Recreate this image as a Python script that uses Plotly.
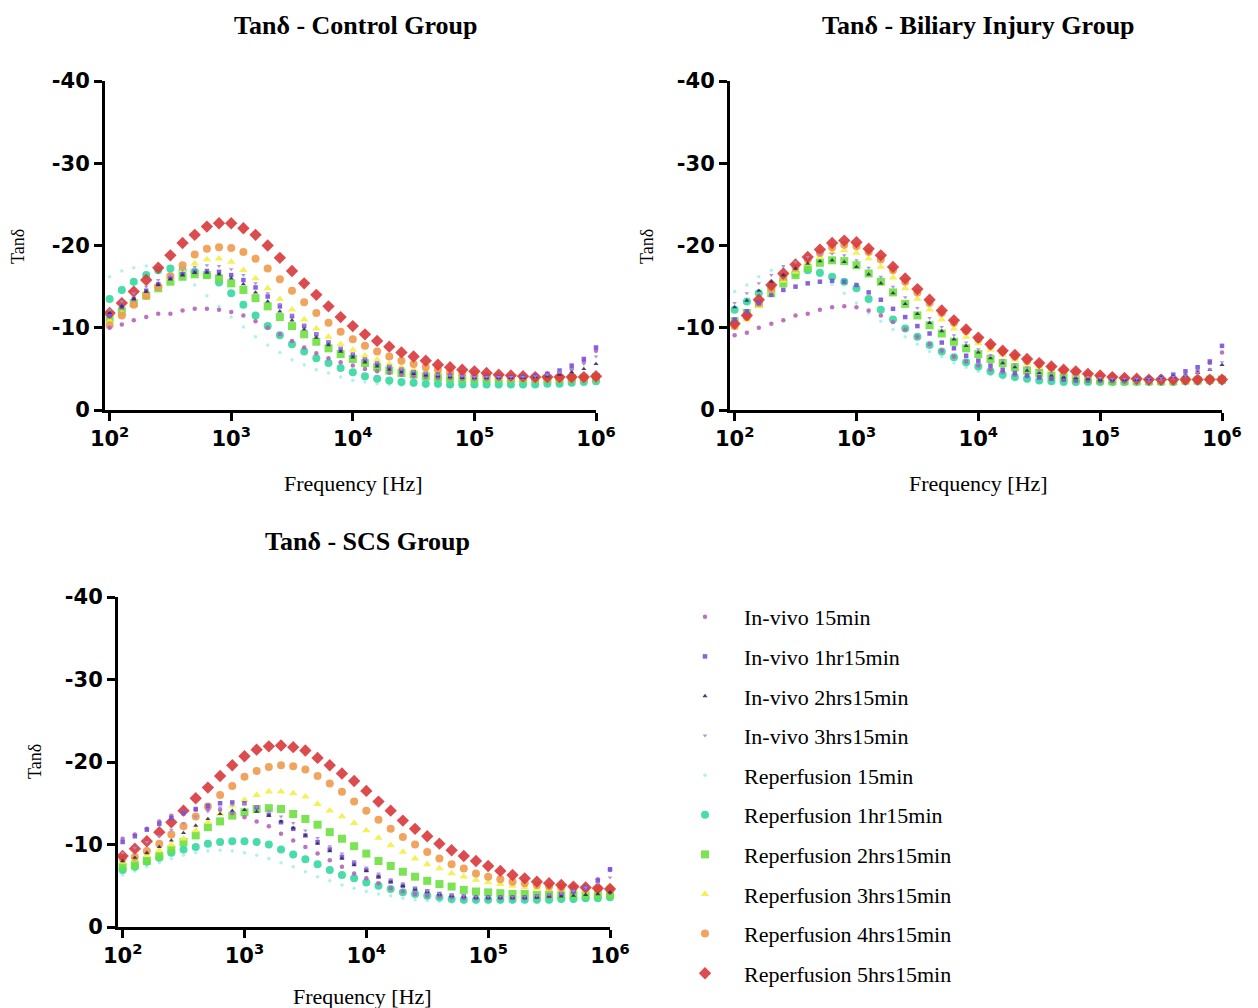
import plotly.graph_objects as go

# ---------------- data ----------------
freq = [100, 126, 158, 200, 251, 316, 398, 501, 631, 794, 1000, 1259, 1585, 1995, 2512,
        3162, 3981, 5012, 6310, 7943, 10000, 12589, 15849, 19953, 25119, 31623, 39811,
        50119, 63096, 79433, 100000, 125893, 158489, 199526, 251189, 316228, 398107,
        501187, 630957, 794328, 1000000]

series_names = ["In-vivo 15min", "In-vivo 1hr15min", "In-vivo 2hrs15min", "In-vivo 3hrs15min",
                "Reperfusion 15min", "Reperfusion 1hr15min", "Reperfusion 2hrs15min",
                "Reperfusion 3hrs15min", "Reperfusion 4hrs15min", "Reperfusion 5hrs15min"]

panel_titles = ["Tanδ - Control Group", "Tanδ - Biliary Injury Group", "Tanδ - SCS Group"]
x_tick_vals = [100, 1000, 10000, 100000, 1000000]
x_tick_text = ["10<sup>2</sup>", "10<sup>3</sup>", "10<sup>4</sup>", "10<sup>5</sup>", "10<sup>6</sup>"]
y_tick_vals = [0, -10, -20, -30, -40]
y_tick_text = ["0", "-10", "-20", "-30", "-40"]

# Control group (tan delta, negative)
ctrl_iv15 = [-10.0, -10.4, -10.9, -11.3, -11.7, -11.7, -12.1, -12.3, -12.3, -12.2, -11.9, -11.5, -10.8, -10.0, -9.2, -8.4, -7.6, -6.9, -6.3, -5.8, -5.4, -5.0, -4.7, -4.5, -4.3, -4.1, -4.0, -3.9, -3.9, -3.8, -3.8, -3.8, -3.8, -3.9, -3.9, -4.0, -4.2, -4.5, -5.0, -5.9, -7.2]
ctrl_iv1 = [-11.5, -12.5, -13.5, -14.5, -15.3, -16.0, -16.5, -16.8, -16.9, -16.8, -16.4, -15.8, -14.9, -13.8, -12.6, -11.4, -10.2, -9.2, -8.2, -7.4, -6.7, -6.1, -5.6, -5.2, -4.9, -4.6, -4.4, -4.3, -4.2, -4.1, -4.0, -4.0, -4.0, -4.0, -4.1, -4.2, -4.4, -4.8, -5.4, -6.2, -7.6]
ctrl_iv2 = [-11.8, -12.6, -13.5, -14.4, -15.2, -15.9, -16.4, -16.7, -16.7, -16.5, -16.0, -15.3, -14.3, -13.2, -12.0, -10.9, -9.8, -8.8, -7.9, -7.1, -6.4, -5.8, -5.3, -4.9, -4.6, -4.4, -4.2, -4.1, -4.0, -3.9, -3.9, -3.9, -3.9, -3.9, -3.9, -4.0, -4.1, -4.3, -4.6, -5.0, -5.6]
ctrl_iv3 = [-12.2, -13.2, -14.2, -15.0, -15.8, -16.4, -17.0, -17.4, -17.6, -17.5, -17.1, -16.4, -15.4, -14.2, -12.9, -11.6, -10.4, -9.3, -8.4, -7.6, -6.9, -6.3, -5.8, -5.4, -5.0, -4.7, -4.5, -4.3, -4.2, -4.1, -4.0, -4.0, -4.0, -4.0, -4.0, -4.1, -4.3, -4.6, -5.0, -5.6, -6.5]
ctrl_r15 = [-16.2, -16.9, -17.3, -17.5, -17.3, -16.8, -16.0, -15.2, -13.9, -12.6, -11.3, -10.1, -8.9, -7.9, -7.0, -6.1, -5.5, -4.9, -4.5, -4.0, -3.6, -3.4, -3.2, -3.1, -3.0, -3.0, -2.9, -2.9, -2.9, -2.9, -2.9, -2.9, -2.9, -2.9, -2.9, -3.0, -3.0, -3.1, -3.2, -3.3, -3.4]
ctrl_r1 = [-13.5, -14.6, -15.6, -16.4, -17.0, -17.2, -17.0, -16.8, -16.4, -15.5, -14.2, -12.8, -11.5, -10.2, -9.1, -8.0, -7.1, -6.3, -5.7, -5.1, -4.6, -4.1, -3.8, -3.6, -3.4, -3.3, -3.2, -3.2, -3.1, -3.1, -3.1, -3.1, -3.1, -3.1, -3.1, -3.1, -3.2, -3.2, -3.3, -3.4, -3.5]
ctrl_r2 = [-11.1, -12.0, -13.0, -13.9, -14.8, -15.6, -16.2, -16.5, -16.4, -16.0, -15.4, -14.6, -13.6, -12.6, -11.3, -10.2, -9.2, -8.3, -7.5, -6.8, -6.2, -5.7, -5.2, -4.8, -4.5, -4.3, -4.1, -4.0, -3.9, -3.8, -3.8, -3.8, -3.8, -3.8, -3.8, -3.8, -3.8, -3.8, -3.9, -3.9, -4.0]
ctrl_r3 = [-10.8, -11.8, -12.9, -14.0, -15.0, -16.0, -17.0, -17.8, -18.3, -18.4, -18.0, -17.0, -16.0, -14.8, -13.5, -12.2, -11.0, -9.9, -8.9, -8.0, -7.3, -6.6, -6.1, -5.6, -5.2, -4.9, -4.7, -4.5, -4.3, -4.2, -4.1, -4.0, -3.9, -3.9, -3.9, -3.9, -3.9, -3.9, -3.9, -3.9, -4.0]
ctrl_r4 = [-10.3, -11.5, -12.8, -13.9, -15.0, -16.3, -17.6, -18.9, -19.6, -19.8, -19.7, -19.2, -18.4, -17.2, -15.9, -14.5, -13.1, -11.8, -10.6, -9.5, -8.6, -7.8, -7.1, -6.5, -6.0, -5.6, -5.2, -4.9, -4.6, -4.4, -4.3, -4.1, -4.0, -3.9, -3.9, -3.8, -3.8, -3.8, -3.8, -3.8, -3.9]
ctrl_r5 = [-11.8, -13.0, -14.4, -15.8, -17.3, -18.8, -20.3, -21.3, -22.3, -22.7, -22.7, -22.1, -21.3, -20.0, -18.5, -16.9, -15.4, -14.0, -12.6, -11.3, -10.2, -9.2, -8.4, -7.7, -7.0, -6.5, -6.0, -5.5, -5.2, -4.9, -4.7, -4.5, -4.3, -4.2, -4.1, -4.0, -4.0, -4.0, -4.0, -4.0, -4.1]

# Biliary injury group
bil_iv15 = [-9.1, -9.4, -10.0, -10.5, -10.9, -11.5, -11.7, -12.2, -12.5, -12.6, -12.5, -12.1, -11.5, -10.7, -9.8, -8.9, -8.0, -7.2, -6.5, -5.9, -5.4, -4.9, -4.6, -4.3, -4.1, -3.9, -3.8, -3.7, -3.6, -3.6, -3.5, -3.5, -3.5, -3.6, -3.6, -3.7, -3.9, -4.2, -4.7, -5.7, -7.0]
bil_iv1 = [-11.0, -12.0, -13.0, -14.0, -14.6, -15.0, -15.4, -15.6, -15.7, -15.6, -15.2, -14.3, -13.4, -12.3, -11.3, -10.2, -9.3, -8.2, -7.5, -6.6, -6.0, -5.4, -4.9, -4.5, -4.2, -4.0, -3.8, -3.7, -3.6, -3.6, -3.6, -3.6, -3.6, -3.7, -3.8, -4.0, -4.3, -4.7, -5.2, -5.9, -7.8]
bil_iv2 = [-12.5, -13.3, -14.5, -15.6, -16.4, -17.2, -17.8, -18.1, -18.2, -18.0, -17.4, -16.5, -15.4, -14.2, -12.9, -11.7, -10.6, -9.6, -8.6, -7.8, -7.0, -6.3, -5.7, -5.2, -4.8, -4.5, -4.2, -4.0, -3.9, -3.8, -3.7, -3.7, -3.7, -3.7, -3.8, -3.9, -4.0, -4.2, -4.5, -4.9, -5.5]
bil_iv3 = [-13.0, -14.2, -15.4, -16.4, -17.5, -18.0, -18.6, -18.9, -19.0, -18.8, -18.2, -17.3, -16.2, -15.0, -13.7, -12.4, -11.2, -10.1, -9.1, -8.2, -7.4, -6.7, -6.1, -5.6, -5.2, -4.8, -4.5, -4.3, -4.1, -4.0, -3.9, -3.8, -3.8, -3.8, -3.8, -3.9, -4.0, -4.2, -4.5, -5.0, -5.8]
bil_r15 = [-14.4, -15.2, -16.2, -17.0, -17.3, -17.3, -17.0, -16.3, -15.3, -14.2, -13.0, -11.8, -10.8, -9.8, -8.9, -8.0, -7.1, -6.5, -5.7, -5.2, -4.7, -4.3, -3.9, -3.7, -3.5, -3.4, -3.3, -3.3, -3.2, -3.2, -3.2, -3.2, -3.2, -3.2, -3.2, -3.3, -3.3, -3.4, -3.4, -3.5, -3.6]
bil_r1 = [-12.2, -13.2, -14.2, -15.0, -15.8, -16.6, -17.0, -16.7, -16.2, -15.6, -14.8, -13.5, -12.2, -11.0, -9.9, -8.9, -7.9, -7.1, -6.4, -5.8, -5.3, -4.7, -4.3, -4.0, -3.8, -3.6, -3.5, -3.4, -3.4, -3.4, -3.4, -3.4, -3.4, -3.4, -3.4, -3.4, -3.4, -3.5, -3.5, -3.6, -3.6]
bil_r2 = [-10.8, -11.8, -12.9, -14.2, -15.4, -16.4, -17.3, -17.9, -18.2, -18.1, -17.6, -16.6, -15.6, -14.3, -12.9, -11.5, -10.3, -9.3, -8.3, -7.5, -6.8, -6.2, -5.7, -5.2, -4.8, -4.5, -4.2, -4.0, -3.8, -3.7, -3.6, -3.5, -3.5, -3.5, -3.5, -3.5, -3.5, -3.6, -3.6, -3.7, -3.7]
bil_r3 = [-10.0, -11.0, -12.6, -14.3, -15.7, -16.8, -17.8, -18.6, -19.2, -19.4, -19.1, -18.4, -17.4, -16.1, -14.8, -13.5, -12.2, -11.0, -9.9, -8.9, -8.1, -7.3, -6.7, -6.1, -5.6, -5.2, -4.9, -4.6, -4.3, -4.1, -3.9, -3.8, -3.7, -3.6, -3.6, -3.6, -3.6, -3.6, -3.6, -3.6, -3.7]
bil_r4 = [-10.2, -11.3, -13.0, -14.8, -16.2, -17.3, -18.3, -19.1, -19.8, -20.1, -19.9, -19.2, -18.3, -17.0, -15.6, -14.3, -13.0, -11.8, -10.6, -9.6, -8.6, -7.8, -7.1, -6.5, -6.0, -5.6, -5.2, -4.8, -4.6, -4.3, -4.1, -4.0, -3.8, -3.7, -3.6, -3.6, -3.6, -3.6, -3.6, -3.6, -3.7]
bil_r5 = [-10.5, -11.5, -13.4, -15.2, -16.6, -17.7, -18.6, -19.5, -20.3, -20.6, -20.4, -19.6, -18.8, -17.4, -16.0, -14.7, -13.4, -12.1, -10.9, -9.8, -8.8, -8.0, -7.2, -6.7, -6.2, -5.7, -5.3, -4.9, -4.7, -4.4, -4.2, -4.0, -3.9, -3.8, -3.7, -3.7, -3.7, -3.7, -3.7, -3.7, -3.7]

# SCS group
scs_iv15 = [-10.7, -11.2, -11.9, -12.8, -13.5, -13.9, -14.2, -14.3, -14.2, -13.8, -13.3, -12.8, -12.2, -11.3, -10.5, -9.7, -8.9, -8.1, -7.3, -6.5, -5.9, -5.3, -4.7, -4.3, -4.0, -3.8, -3.7, -3.6, -3.5, -3.5, -3.5, -3.5, -3.5, -3.5, -3.6, -3.7, -3.9, -4.2, -4.7, -5.8, -6.9]
scs_iv1 = [-10.3, -11.0, -11.8, -12.5, -13.2, -13.8, -14.3, -14.7, -15.0, -15.1, -15.0, -14.5, -13.6, -12.7, -11.9, -11.1, -10.3, -9.4, -8.5, -7.7, -6.9, -6.1, -5.5, -5.0, -4.6, -4.3, -4.0, -3.8, -3.7, -3.6, -3.6, -3.6, -3.6, -3.6, -3.7, -3.8, -4.0, -4.3, -4.8, -5.6, -7.0]
scs_iv2 = [-8.0, -8.4, -9.0, -9.7, -10.5, -11.4, -12.3, -13.1, -13.7, -14.1, -14.2, -14.0, -13.5, -12.8, -12.0, -11.1, -10.1, -9.2, -8.3, -7.5, -6.8, -6.1, -5.5, -5.0, -4.6, -4.3, -4.0, -3.8, -3.7, -3.6, -3.6, -3.6, -3.6, -3.6, -3.6, -3.7, -3.7, -3.8, -3.9, -4.0, -4.2]
scs_iv3 = [-9.0, -9.6, -10.3, -11.0, -11.8, -12.6, -13.4, -14.0, -14.5, -14.8, -14.9, -14.6, -14.1, -13.4, -12.6, -11.7, -10.8, -9.8, -8.9, -8.0, -7.2, -6.5, -5.8, -5.3, -4.8, -4.4, -4.1, -3.9, -3.8, -3.7, -3.7, -3.7, -3.7, -3.7, -3.8, -3.9, -4.1, -4.4, -4.8, -5.3, -6.0]
scs_r15 = [-6.3, -6.8, -7.3, -7.8, -8.3, -8.7, -9.0, -9.2, -9.3, -9.2, -9.0, -8.7, -8.3, -7.8, -7.3, -6.7, -6.1, -5.6, -5.1, -4.7, -4.3, -4.0, -3.8, -3.5, -3.3, -3.2, -3.1, -3.0, -3.0, -3.0, -3.0, -3.0, -3.0, -3.0, -3.0, -3.0, -3.1, -3.1, -3.2, -3.3, -3.4]
scs_r1 = [-6.9, -7.3, -7.9, -8.4, -9.0, -9.4, -9.7, -10.1, -10.3, -10.4, -10.4, -10.3, -10.0, -9.4, -8.8, -8.2, -7.6, -6.9, -6.3, -5.9, -5.4, -5.0, -4.6, -4.2, -4.0, -3.8, -3.6, -3.4, -3.3, -3.3, -3.3, -3.3, -3.3, -3.3, -3.3, -3.3, -3.4, -3.4, -3.5, -3.5, -3.6]
scs_r2 = [-7.3, -7.5, -8.0, -8.6, -9.4, -10.3, -11.1, -12.1, -12.8, -13.5, -13.9, -14.3, -14.4, -14.3, -13.7, -13.1, -12.4, -11.5, -10.7, -9.8, -8.9, -8.0, -7.4, -6.7, -6.1, -5.6, -5.2, -4.9, -4.5, -4.3, -4.2, -4.1, -4.0, -4.0, -3.9, -3.9, -3.9, -3.9, -3.9, -3.9, -3.9]
scs_r3 = [-7.9, -8.2, -8.7, -9.3, -10.0, -10.7, -11.7, -12.7, -13.7, -14.7, -15.4, -16.0, -16.4, -16.4, -16.2, -15.8, -14.9, -14.1, -13.4, -12.6, -11.7, -10.8, -9.9, -9.1, -8.3, -7.6, -7.1, -6.5, -6.1, -5.7, -5.4, -5.2, -5.0, -4.8, -4.7, -4.6, -4.5, -4.5, -4.4, -4.4, -4.4]
scs_r4 = [-8.3, -8.5, -9.2, -10.1, -11.2, -12.2, -13.4, -14.6, -16.0, -17.1, -18.2, -18.9, -19.4, -19.6, -19.5, -19.1, -18.3, -17.4, -16.4, -15.2, -14.1, -13.0, -11.9, -10.9, -10.0, -9.1, -8.3, -7.6, -7.1, -6.5, -6.1, -5.8, -5.5, -5.3, -5.1, -4.9, -4.8, -4.7, -4.7, -4.6, -4.6]
scs_r5 = [-8.6, -9.5, -10.4, -11.5, -12.7, -14.1, -15.6, -16.9, -18.3, -19.6, -20.7, -21.5, -21.9, -22.0, -21.8, -21.4, -20.5, -19.6, -18.6, -17.7, -16.5, -15.2, -14.1, -12.9, -11.9, -11.0, -10.1, -9.3, -8.6, -8.0, -7.4, -6.8, -6.3, -5.9, -5.5, -5.3, -5.1, -4.9, -4.8, -4.7, -4.6]

panels = [
    [ctrl_iv15, ctrl_iv1, ctrl_iv2, ctrl_iv3, ctrl_r15, ctrl_r1, ctrl_r2, ctrl_r3, ctrl_r4, ctrl_r5],
    [bil_iv15, bil_iv1, bil_iv2, bil_iv3, bil_r15, bil_r1, bil_r2, bil_r3, bil_r4, bil_r5],
    [scs_iv15, scs_iv1, scs_iv2, scs_iv3, scs_r15, scs_r1, scs_r2, scs_r3, scs_r4, scs_r5],
]

# ---------------- styles ----------------
colors = ["#b463b8", "#7a52d6", "#2e2f5e", "#a58ae0", "#a9eef0",
          "#34d8a0", "#6ee040", "#f2ee48", "#f09a4c", "#d8383c"]
symbols = ["circle", "square", "triangle-up", "triangle-down", "circle",
           "circle", "square", "triangle-up", "circle", "diamond"]
sizes = [4.5, 4.5, 4.5, 4, 3.5, 8, 8, 7.5, 8, 9.5]

# the page body adds an 8 px offset; figure is sized to fit the window
OFF = 8
W, H = 1250, 1000
def px(x):
    return (x - OFF) / W
def py(y):
    return 1 - (y - OFF) / H

axes_px = [  # (left, right, top, bottom) in screen pixels
    (105, 596, 81, 410),
    (730, 1222, 81, 410),
    (118, 610, 597, 927),
]
title_pos = [(355, 25), (978, 25), (367, 541)]
xlabel_pos = [(353, 483), (978, 483), (363, 996)]
ylabel_pos = [(18, 247), (647, 247), (35, 762)]

fig = go.Figure()
draw_order = [4, 5, 6, 7, 8, 9, 0, 1, 2, 3]
for p, data in enumerate(panels):
    xa = "x" if p == 0 else f"x{p+1}"
    ya = "y" if p == 0 else f"y{p+1}"
    for k in draw_order:
        fig.add_trace(go.Scatter(
            x=freq, y=data[k], mode="markers", name=series_names[k],
            xaxis=xa, yaxis=ya, cliponaxis=False,
            legendgroup=series_names[k], legendrank=k + 1, showlegend=(p == 0),
            marker=dict(color=colors[k], symbol=symbols[k], size=sizes[k], opacity=0.9,
                        line=dict(width=0)),
        ))

tickfont = dict(family="DejaVu Sans, Arial, sans-serif", size=21, color="black", weight="bold")
for p, (l, r, t, b) in enumerate(axes_px):
    sfx = "" if p == 0 else str(p + 1)
    fig.layout["xaxis" + sfx] = dict(
        type="log", domain=[px(l), px(r)], range=[1.962, 6.0], anchor="y" + sfx,
        tickvals=x_tick_vals, ticktext=x_tick_text, tickfont=tickfont, automargin=False,
        showline=True, linewidth=3, linecolor="black", ticks="outside", ticklen=8,
        tickwidth=3, tickcolor="black", showgrid=False, zeroline=False)
    fig.layout["yaxis" + sfx] = dict(
        domain=[py(b), py(t)], range=[0, -40], anchor="x" + sfx,
        tickvals=y_tick_vals, ticktext=y_tick_text, tickfont=tickfont, automargin=False,
        showline=True, linewidth=3, linecolor="black", ticks="outside", ticklen=8,
        tickwidth=3, tickcolor="black", showgrid=False, zeroline=False)

serif = "Liberation Serif, Times New Roman, serif"
annotations = []
for p in range(3):
    annotations.append(dict(text=panel_titles[p], x=px(title_pos[p][0]), y=py(title_pos[p][1]),
                            xref="paper", yref="paper", showarrow=False,
                            xanchor="center", yanchor="middle",
                            font=dict(family=serif, size=26, color="black", weight="bold")))
    annotations.append(dict(text="Frequency [Hz]", x=px(xlabel_pos[p][0]), y=py(xlabel_pos[p][1]),
                            xref="paper", yref="paper", showarrow=False,
                            xanchor="center", yanchor="middle",
                            font=dict(family=serif, size=22, color="black")))
    annotations.append(dict(text="Tanδ", x=px(ylabel_pos[p][0]), y=py(ylabel_pos[p][1]),
                            xref="paper", yref="paper", showarrow=False, textangle=-90,
                            xanchor="center", yanchor="middle",
                            font=dict(family=serif, size=18, color="black")))

fig.update_layout(
    template="none",
    width=W, height=H, margin=dict(l=0, r=0, t=0, b=0, autoexpand=False),
    paper_bgcolor="white", plot_bgcolor="white",
    annotations=annotations,
    legend=dict(x=px(666), y=py(596), xanchor="left", yanchor="top",
                font=dict(family=serif, size=22, color="black"),
                tracegroupgap=8, itemwidth=68, itemsizing="trace",
                bgcolor="rgba(0,0,0,0)", borderwidth=0),
    showlegend=True,
)

fig.write_html("out.html")
